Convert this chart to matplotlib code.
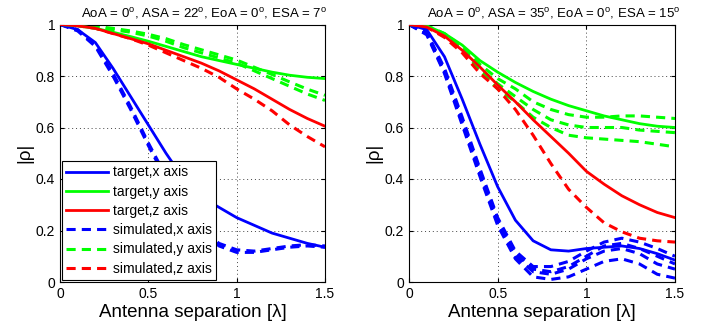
import numpy as np
import matplotlib
matplotlib.use('Agg')
import matplotlib.pyplot as plt

plt.rcParams['font.family'] = ['Liberation Sans', 'DejaVu Sans']
plt.rcParams['mathtext.fontset'] = 'custom'
plt.rcParams['mathtext.rm'] = 'Liberation Sans'

# antenna separation in wavelengths
sep = [0, 0.1, 0.2, 0.3, 0.4, 0.5, 0.6, 0.7, 0.8, 0.9, 1.0, 1.1, 1.2, 1.3, 1.4, 1.5]

# left panel: AoA 0, ASA 22, EoA 0, ESA 7
left_target_x = [1, 0.98, 0.93, 0.83, 0.72, 0.61, 0.50, 0.40, 0.33, 0.29, 0.25, 0.22, 0.19, 0.17, 0.15, 0.135]
left_target_y = [1, 0.995, 0.985, 0.97, 0.953, 0.935, 0.915, 0.895, 0.875, 0.86, 0.845, 0.83, 0.815, 0.803, 0.795, 0.79]
left_target_z = [1, 0.995, 0.985, 0.965, 0.945, 0.925, 0.90, 0.875, 0.85, 0.82, 0.785, 0.75, 0.71, 0.67, 0.635, 0.605]
left_sim_x = [
  [1, 0.98, 0.92, 0.81, 0.68, 0.54, 0.41, 0.30, 0.21, 0.15, 0.125, 0.12, 0.13, 0.14, 0.145, 0.14],
  [1, 0.975, 0.915, 0.80, 0.67, 0.53, 0.40, 0.29, 0.20, 0.14, 0.115, 0.115, 0.125, 0.135, 0.14, 0.135],
]
left_sim_y = [
  [1, 1.0, 0.99, 0.98, 0.97, 0.955, 0.935, 0.91, 0.89, 0.87, 0.85, 0.82, 0.79, 0.76, 0.73, 0.705],
  [1, 1.0, 0.993, 0.985, 0.975, 0.962, 0.945, 0.922, 0.902, 0.882, 0.862, 0.834, 0.806, 0.777, 0.749, 0.725],
]
left_sim_z = [
  [1, 0.995, 0.985, 0.965, 0.945, 0.92, 0.89, 0.86, 0.83, 0.795, 0.75, 0.71, 0.665, 0.61, 0.565, 0.525],
]

# right panel: AoA 0, ASA 35, EoA 0, ESA 15
right_target_x = [1, 0.98, 0.875, 0.71, 0.535, 0.37, 0.24, 0.16, 0.125, 0.12, 0.13, 0.135, 0.14, 0.13, 0.11, 0.085]
right_target_y = [1, 0.995, 0.965, 0.92, 0.86, 0.815, 0.775, 0.74, 0.71, 0.685, 0.665, 0.645, 0.63, 0.615, 0.605, 0.60]
right_target_z = [1, 0.99, 0.955, 0.90, 0.835, 0.765, 0.70, 0.63, 0.565, 0.50, 0.43, 0.38, 0.335, 0.30, 0.27, 0.25]
right_sim_x = [
  [1, 0.97, 0.83, 0.64, 0.44, 0.25, 0.12, 0.06, 0.06, 0.08, 0.12, 0.155, 0.17, 0.155, 0.13, 0.10],
  [1, 0.965, 0.82, 0.62, 0.42, 0.23, 0.10, 0.04, 0.03, 0.05, 0.09, 0.12, 0.13, 0.11, 0.07, 0.05],
  [1, 0.96, 0.81, 0.61, 0.41, 0.22, 0.09, 0.02, 0.01, 0.02, 0.05, 0.08, 0.09, 0.07, 0.03, 0.015],
  [1, 0.965, 0.815, 0.625, 0.43, 0.24, 0.11, 0.05, 0.04, 0.06, 0.10, 0.14, 0.15, 0.13, 0.10, 0.07],
]
right_sim_y = [
  [1, 0.995, 0.965, 0.915, 0.845, 0.79, 0.75, 0.70, 0.67, 0.65, 0.64, 0.64, 0.645, 0.645, 0.64, 0.635],
  [1, 0.99, 0.96, 0.91, 0.83, 0.77, 0.72, 0.67, 0.63, 0.61, 0.60, 0.60, 0.60, 0.59, 0.585, 0.58],
  [1, 0.99, 0.955, 0.905, 0.82, 0.75, 0.70, 0.64, 0.60, 0.57, 0.56, 0.555, 0.55, 0.545, 0.535, 0.525],
]
right_sim_z = [
  [1, 0.99, 0.95, 0.89, 0.81, 0.75, 0.67, 0.57, 0.46, 0.36, 0.29, 0.23, 0.195, 0.17, 0.16, 0.155],
]

titles = [
  r'AoA = 0$^{\mathrm{o}}$, ASA = 22$^{\mathrm{o}}$, EoA = 0$^{\mathrm{o}}$, ESA = 7$^{\mathrm{o}}$',
  r'AoA = 0$^{\mathrm{o}}$, ASA = 35$^{\mathrm{o}}$, EoA = 0$^{\mathrm{o}}$, ESA = 15$^{\mathrm{o}}$',
]

colors = ['#0000ff', '#00ff00', '#ff0000']
labels = ['x axis', 'y axis', 'z axis']

panels = [
  ([left_target_x, left_target_y, left_target_z], [left_sim_x, left_sim_y, left_sim_z]),
  ([right_target_x, right_target_y, right_target_z], [right_sim_x, right_sim_y, right_sim_z]),
]

fig = plt.figure(figsize=(7.08, 3.26), dpi=100)
ax_l = fig.add_axes([60 / 708, 1 - 282 / 326, 265 / 708, 257.5 / 326])
ax_r = fig.add_axes([409 / 708, 1 - 282 / 326, 266 / 708, 257.5 / 326])

for ax, (targets, sims), title in zip([ax_l, ax_r], panels, titles):
  handles = []
  for c, t, lab in zip(colors, targets, labels):
    h, = ax.plot(sep, t, color=c, lw=2, label='target,' + lab, zorder=3)
    handles.append(h)
  for c, s, lab in zip(colors, sims, labels):
    for k, run in enumerate(s):
      h, = ax.plot(sep, run, color=c, lw=2.2, dashes=(3, 2), zorder=2,
                   label='simulated,' + lab if k == 0 else None)
      if k == 0:
        handles.append(h)
  ax.set_xlim(0, 1.5)
  ax.set_ylim(0, 1)
  ax.set_xticks([0, 0.5, 1, 1.5])
  ax.set_xticklabels(['0', '0.5', '1', '1.5'])
  ax.set_yticks([0, 0.2, 0.4, 0.6, 0.8, 1])
  ax.set_yticklabels(['0', '0.2', '0.4', '0.6', '0.8', '1'])
  ax.grid(True, ls=(0, (1, 3)), color='#444444', lw=0.7)
  ax.tick_params(direction='in', labelsize=10, length=3, top=True, right=True)
  for sp in ax.spines.values():
    sp.set_linewidth(0.8)
  ax.set_xlabel('Antenna separation [\u03bb]', fontsize=13.5, labelpad=2)
  ax.set_ylabel('|\u03c1|', fontsize=13.5, labelpad=2)
  ax.set_title(title, fontsize=9.5, pad=5, x=0.545)

leg = ax_l.legend(handles=handles, loc='lower left', fontsize=10, frameon=True,
                  fancybox=False, borderaxespad=0.15, handlelength=3.0,
                  handletextpad=0.35, labelspacing=0.38, borderpad=0.3)
leg.get_frame().set_edgecolor('black')
leg.get_frame().set_linewidth(0.8)
leg.get_frame().set_alpha(1)

fig.savefig('out.png', dpi=100)
